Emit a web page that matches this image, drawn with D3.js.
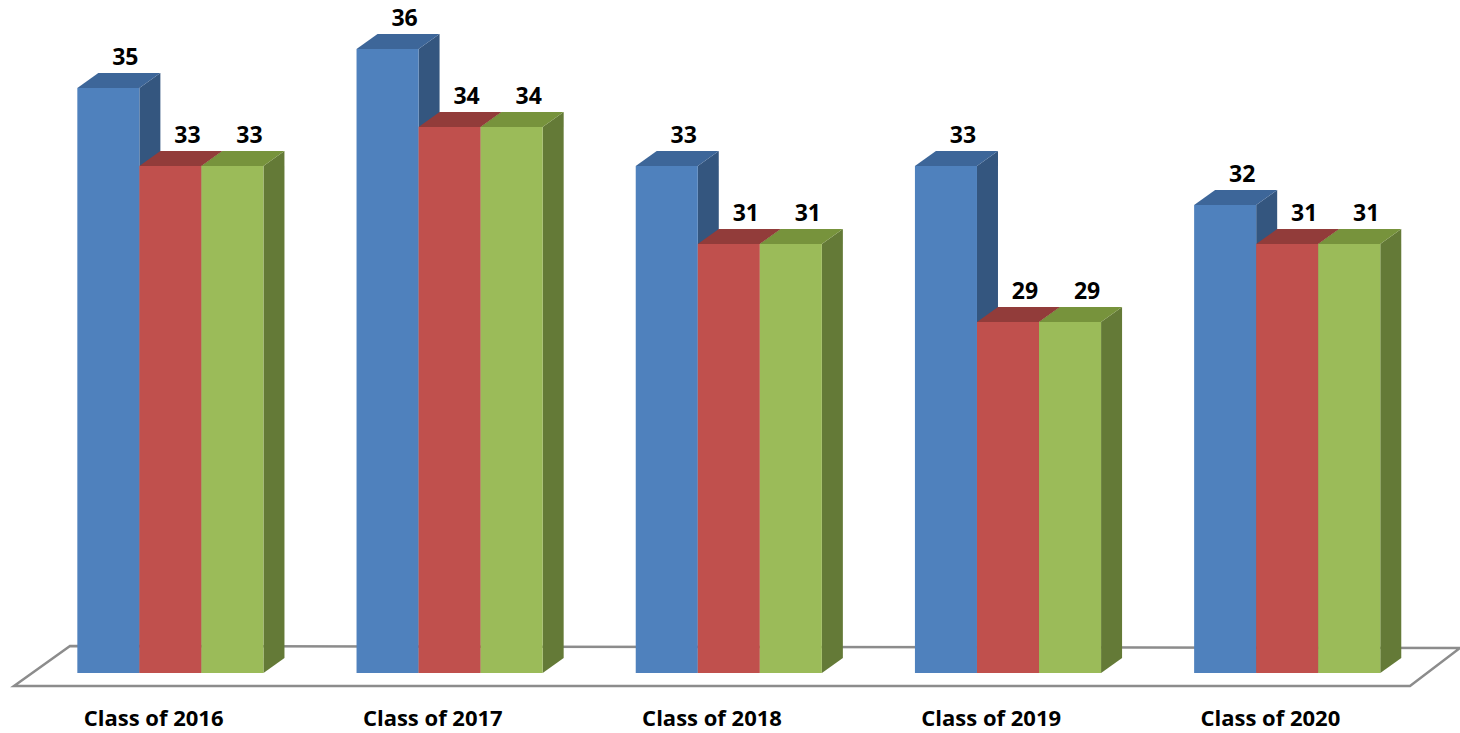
<!DOCTYPE html>
<html lang="en">
  <head>
    <meta charset="UTF-8">
    <title>Class comparison</title>
    <style>
      html, body {
        margin: 0;
        padding: 0;
        background: #fff;
      }

      svg {
        display: block;
        font-family: 'Open Sans', 'Liberation Sans', sans-serif;
        font-weight: 700;
      }
    </style>
  </head>
  <body>
    <div id="chart"></div>

    <script src="https://d3js.org/d3.v7.min.js"></script>
    <script>
      const categories = ['Class of 2016', 'Class of 2017', 'Class of 2018', 'Class of 2019', 'Class of 2020'];
      const seriesNames = ['Series 1', 'Series 2', 'Series 3'];
      const series1 = [35, 36, 33, 33, 32];
      const series2 = [33, 34, 31, 29, 31];
      const series3 = [33, 34, 31, 29, 31];
      const yDomain = [20, 37];

      const width = 1460;
      const height = 733;

      // floor of the 3d box
      const floorLeft = 14, floorRight = 1410;
      const floorFront = 686;
      const depthX = 56, depthY = -40;
      // bars sit between these depth fractions of the floor
      const f0 = 0.3, f1 = 0.675;

      const faces = [
        { front: '#4f81bd', top: '#3d6699', side: '#34567f' },
        { front: '#c0504d', top: '#923c3a', side: '#7e3533' },
        { front: '#9bbb59', top: '#77933c', side: '#647a37' }
      ];

      const allValues = [series1, series2, series3];

      const svg = d3.select('#chart').append('svg')
        .attr('width', width)
        .attr('height', height);

      const x0 = d3.scaleBand()
        .domain(categories)
        .range([floorLeft, floorRight])
        .paddingInner(1 / 3)
        .paddingOuter(1 / 6);

      const x1 = d3.scaleBand()
        .domain(seriesNames)
        .range([0, x0.bandwidth()]);

      const yBase = 673;
      const y = d3.scaleLinear()
        .domain(yDomain)
        .range([yBase, yBase - 39 * (yDomain[1] - yDomain[0])]);

      const fx = depthX * f0;
      const bdx = depthX * (f1 - f0);
      const bdy = depthY * (f1 - f0);

      // floor
      const floorPts = [
        [floorLeft, floorFront],
        [floorRight, floorFront],
        [floorRight + depthX - 6, floorFront + depthY + 2],
        [floorLeft + depthX, floorFront + depthY]
      ];
      svg.append('polygon')
        .attr('points', floorPts.map(p => p.join(',')).join(' '))
        .attr('fill', '#fff')
        .attr('stroke', '#8c8c8c')
        .attr('stroke-width', 2.5);

      const bars = [];
      categories.forEach((c, i) => {
        seriesNames.forEach((s, j) => {
          bars.push({ cat: c, series: s, j: j, value: allValues[j][i] });
        });
      });

      const g = svg.append('g');

      bars.forEach(d => {
        const xl = x0(d.cat) + x1(d.series) + fx;
        const xr = xl + x1.bandwidth();
        const yt = y(d.value);
        const yb = y(yDomain[0]);
        const col = faces[d.j];

        // side face
        g.append('polygon')
          .attr('points', [[xr, yt], [xr + bdx, yt + bdy], [xr + bdx, yb + bdy], [xr, yb]].map(p => p.join(',')).join(' '))
          .attr('fill', col.side);

        // top face
        g.append('polygon')
          .attr('points', [[xl, yt], [xr, yt], [xr + bdx, yt + bdy], [xl + bdx, yt + bdy]].map(p => p.join(',')).join(' '))
          .attr('fill', col.top);

        // front face
        g.append('rect')
          .attr('x', xl)
          .attr('y', yt)
          .attr('width', x1.bandwidth())
          .attr('height', yb - yt)
          .attr('fill', col.front);
      });

      // value labels
      svg.append('g')
        .selectAll('text')
        .data(bars)
        .join('text')
        .attr('x', d => x0(d.cat) + x1(d.series) + fx + x1.bandwidth() / 2 + 17)
        .attr('y', d => y(d.value) + bdy - 8)
        .attr('text-anchor', 'middle')
        .attr('font-size', 23)
        .attr('fill', '#000')
        .text(d => d.value);

      // category labels
      svg.append('g')
        .selectAll('text')
        .data(categories)
        .join('text')
        .attr('x', d => x0(d) + x0.bandwidth() / 2)
        .attr('y', 726)
        .attr('text-anchor', 'middle')
        .attr('font-size', 22)
        .attr('fill', '#000')
        .text(d => d);
    </script>
  </body>
</html>
